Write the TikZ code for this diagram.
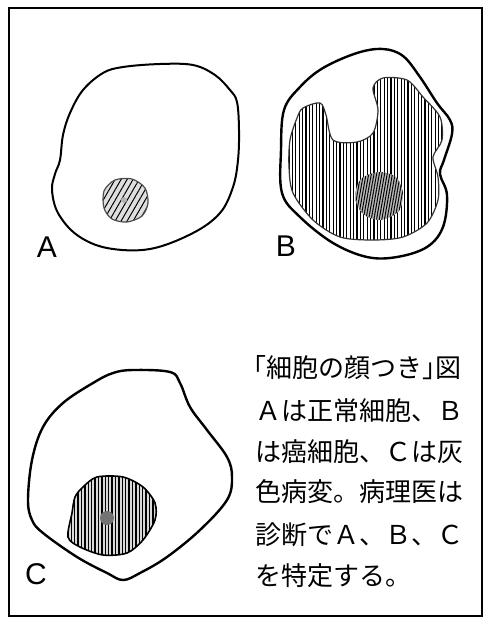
\documentclass[tikz,border=0pt]{standalone}
\usepackage{fontspec}
\setsansfont{Liberation Sans}
\newfontfamily\jpfont{Noto Sans CJK JP}
\usetikzlibrary{patterns.meta}

\begin{document}
\begin{tikzpicture}[x=.5pt,y=-.5pt,
  wall/.style={draw,line width=1pt,line join=round},
  vhatch/.style={pattern={Lines[angle=90,distance=1.7pt,line width=.55pt]}},
  letter/.style={inner sep=0pt,font=\sffamily\fontsize{15}{15}\selectfont},
  caption/.style={anchor=west,inner sep=0pt,font=\jpfont\fontsize{13}{13}\selectfont}]
\useasboundingbox (0,0) rectangle (486,618);
\draw[line width=.8pt] (9,8) rectangle (482,616);

% A: normal cell
\draw[wall] plot[smooth cycle,tension=.6] coordinates {(103,73) (123,67) (160,64) (193,65) (215,75)
  (230,90) (237,102) (239,130) (238,160) (233,187) (220,213) (193,233) (150,249) (107,248)
  (77,235) (58,213) (52,190) (55,174) (60,160) (63,135) (70,113) (83,90)};
\path[draw=black!70,line width=.6pt,preaction={fill=gray!25},
  pattern={Lines[angle=60,distance=2.6pt,line width=.5pt]}]
  plot[smooth cycle] coordinates {(115,180) (132,179) (145,188) (148,203) (142,216) (127,222)
  (112,219) (104,208) (104,191)};
\fill[gray!60] (124,200) circle (3);
\node[letter] (labA) at (47,247) {A};

% B: cancer cell
\draw[wall,line width=1.2pt] plot[smooth cycle,tension=.6] coordinates {(357,53) (383,49) (403,56)
  (420,77) (437,103) (450,120) (452,134) (444,160) (440,174) (447,195) (443,227) (427,247)
  (397,257) (367,257) (333,243) (300,217) (282,193) (281,150) (284,110) (300,87) (323,68)};
\path[draw=black!80,line width=.6pt,vhatch] plot[smooth cycle,tension=.5] coordinates {(290,140)
  (297,118) (303,108) (320,103) (326,115) (333,140) (357,142) (373,133) (378,110) (373,88)
  (383,78) (407,80) (423,97) (440,117) (442,140) (433,157) (438,177) (438,200) (427,223)
  (403,237) (373,240) (340,237) (313,220) (293,193) (289,167)};
\path[pattern={Lines[angle=80,distance=1.3pt,line width=.5pt]},preaction={fill=gray!55}]
  plot[smooth cycle] coordinates {(379,172) (396,177) (403,193) (399,211) (381,220) (363,214)
  (355,197) (361,179)};
\node[letter] (labB) at (286,246) {B};

% C: gray lesion
\draw[wall,line width=1.2pt] plot[smooth cycle,tension=.6] coordinates {(113,373) (133,370)
  (170,372) (180,383) (190,407) (207,430) (227,457) (232,477) (227,500) (200,530) (167,557)
  (140,573) (123,580) (107,573) (77,557) (43,533) (32,520) (28,500) (32,460) (43,427) (63,403)
  (93,383)};
\path[draw,line width=.8pt,preaction={fill=gray!30},
  pattern={Lines[angle=90,distance=1.7pt,line width=.7pt]}]
  plot[smooth cycle,tension=.5] coordinates {(83,487) (97,477) (123,477) (143,487) (155,503)
  (155,520) (143,540) (127,553) (103,555) (80,547) (68,537) (72,513) (75,497)};
\fill[black!55] (107,518) circle (7);
\node[letter] (labC) at (36,574) {C};

% caption
\node[caption] (cap1) at (253,368) {｢細胞の顔つき｣図};
\node[caption] (cap2) at (255,411) {Ａは正常細胞、Ｂ};
\node[caption] (cap3) at (255,452) {は癌細胞、Ｃは灰};
\node[caption] (cap4) at (255,492) {色病変。病理医は};
\node[caption] (cap5) at (255,535) {診断でＡ、Ｂ、Ｃ};
\node[caption] (cap6) at (255,576) {を特定する。};
\end{tikzpicture}
\end{document}
